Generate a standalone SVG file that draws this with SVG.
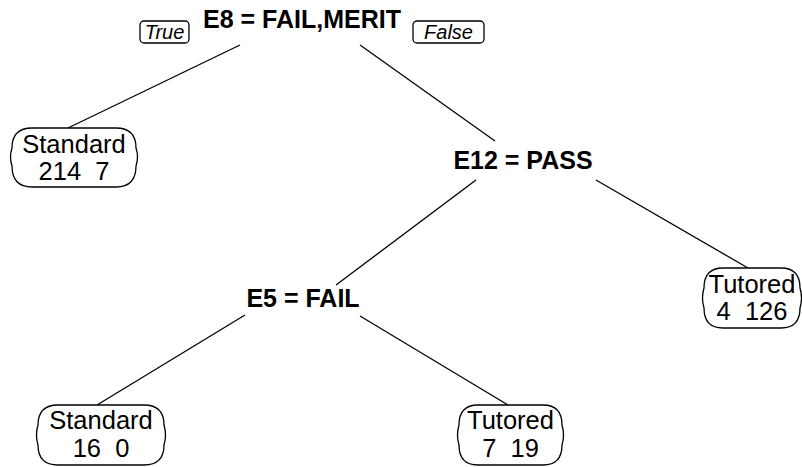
<svg xmlns="http://www.w3.org/2000/svg" width="802" height="467" viewBox="0 0 802 467">
  <style>
    .split { font-family: "Liberation Sans", Arial, sans-serif; font-weight: bold; font-size: 25px; fill: #000; text-anchor: middle; }
    .leaf-text { font-family: "Liberation Sans", Arial, sans-serif; font-size: 25.5px; fill: #000; text-anchor: middle; white-space: pre; }
    .tag-text { font-family: "Liberation Sans", Arial, sans-serif; font-style: italic; font-size: 20px; fill: #000; text-anchor: middle; }
    .box { fill: #fff; stroke: #000; stroke-width: 1.3; }
    .edge { stroke: #000; stroke-width: 1.3; fill: none; }
  </style>
  <rect width="802" height="467" fill="#fff"/>

  <!-- tree edges -->
  <g id="connectors">
    <line class="edge" x1="240" y1="45" x2="68" y2="128"/>
    <line class="edge" x1="360" y1="45" x2="495" y2="141"/>
    <line class="edge" x1="476" y1="180" x2="336" y2="285"/>
    <line class="edge" x1="596" y1="180" x2="748" y2="268"/>
    <line class="edge" x1="245" y1="315" x2="97" y2="405"/>
    <line class="edge" x1="360" y1="316" x2="508" y2="405"/>
  </g>

  <!-- split nodes -->
  <g id="root">
    <text class="split" x="302" y="28">E8 = FAIL,MERIT</text>
  </g>
  <g id="label-true">
    <rect class="box" x="140" y="21" width="49" height="22" rx="4"/>
    <text class="tag-text" x="164.5" y="39">True</text>
  </g>
  <g id="label-false">
    <rect class="box" x="413" y="21" width="71" height="22" rx="4"/>
    <text class="tag-text" x="448.5" y="39">False</text>
  </g>

  <g id="split-e12">
    <text class="split" x="523" y="169">E12 = PASS</text>
  </g>
  <g id="split-e5">
    <text class="split" x="303" y="307">E5 = FAIL</text>
  </g>

  <!-- leaves: rounded boxes with slightly bowed sides -->
  <g id="leaf-standard-1">
    <path class="box" d="M32,128 H116 Q136,128 136,148 Q139,157 136,166 Q136,187 116,187 H32 Q12,187 12,166 Q9,157 12,148 Q12,128 32,128 Z"/>
    <text class="leaf-text" x="74" y="153">Standard</text>
    <text class="leaf-text" x="74" y="180">214  7</text>
  </g>

  <g id="leaf-tutored-1">
    <path class="box" d="M723,268 H781 Q800,268 800,288 Q803,298 800,308 Q800,328 781,328 H723 Q704,328 704,308 Q701,298 704,288 Q704,268 723,268 Z"/>
    <text class="leaf-text" x="752" y="293">Tutored</text>
    <text class="leaf-text" x="752" y="320">4  126</text>
  </g>

  <g id="leaf-standard-2">
    <path class="box" d="M58,405 H144 Q164,405 164,425 Q167,435 164,445 Q164,465 144,465 H58 Q38,465 38,445 Q35,435 38,425 Q38,405 58,405 Z"/>
    <text class="leaf-text" x="101" y="429">Standard</text>
    <text class="leaf-text" x="101" y="457">16  0</text>
  </g>

  <g id="leaf-tutored-2">
    <path class="box" d="M478,405 H543 Q562,405 562,425 Q565,435 562,445 Q562,465 543,465 H478 Q459,465 459,445 Q456,435 459,425 Q459,405 478,405 Z"/>
    <text class="leaf-text" x="510.5" y="429">Tutored</text>
    <text class="leaf-text" x="510.5" y="457">7  19</text>
  </g>
</svg>
